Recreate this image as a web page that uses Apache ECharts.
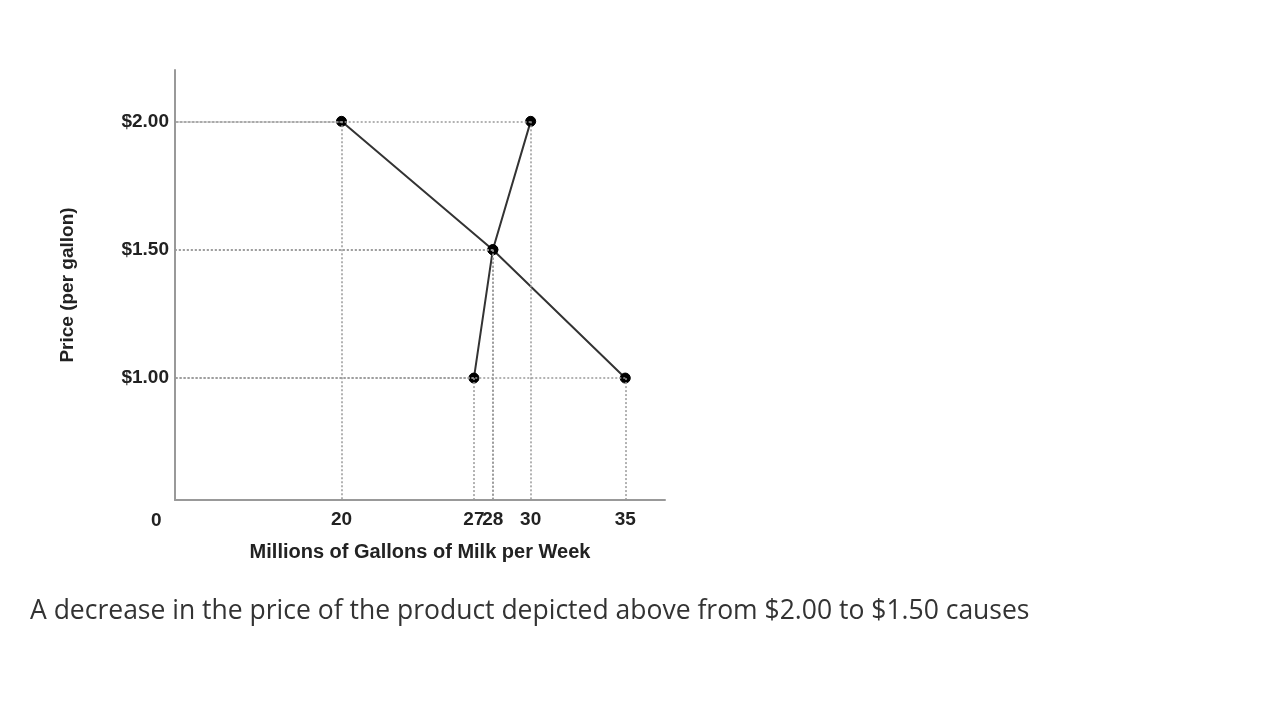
<!DOCTYPE html>
<html>
<head>
<meta charset="utf-8">
<script src="https://cdn.jsdelivr.net/npm/echarts@6/dist/echarts.min.js"></script>
<style>
  html, body { margin: 0; padding: 0; background: #fff; }
  #chart { width: 1280px; height: 708px; }
</style>
</head>
<body>
<div id="chart"></div>
<script>
var demandQty = [20, 28, 35];
var demandPrice = [2.0, 1.5, 1.0];
var supplyQty = [27, 28, 30];
var supplyPrice = [1.0, 1.5, 2.0];
var xTicks = [20, 27, 28, 30, 35];
var yTicks = [1.0, 1.5, 2.0];

function pairs(xs, ys) {
  return xs.map(function (x, i) { return [x, ys[i]]; });
}

var xMin = 11.2, yMin = 0.525;
var guides = [];
pairs(demandQty, demandPrice).concat(pairs(supplyQty, supplyPrice)).forEach(function (p) {
  guides.push([{ coord: [p[0], p[1]] }, { coord: [p[0], yMin] }]);
  guides.push([{ coord: [p[0], p[1]] }, { coord: [xMin, p[1]] }]);
});

var chart = echarts.init(document.getElementById("chart"));
chart.setOption({
  animation: false,
  grid: { left: 175, right: 615, top: 70, bottom: 208 },
  xAxis: {
    type: "value", min: xMin, max: 37.1,
    axisLine: { lineStyle: { color: "#999", width: 2 } },
    axisTick: { show: false },
    splitLine: { show: false },
    axisLabel: {
      customValues: xTicks, color: "#222", fontSize: 19, fontWeight: "bold",
      fontFamily: "Liberation Sans", margin: 10
    },
    name: "Millions of Gallons of Milk per Week",
    nameLocation: "middle", nameGap: 42,
    nameTextStyle: { color: "#222", fontSize: 20, fontWeight: "bold", fontFamily: "Liberation Sans" }
  },
  yAxis: {
    type: "value", min: yMin, max: 2.2,
    axisLine: { show: true, lineStyle: { color: "#999", width: 2 } },
    axisTick: { show: false },
    splitLine: { show: false },
    axisLabel: {
      customValues: yTicks, color: "#222", fontSize: 19, fontWeight: "bold",
      fontFamily: "Liberation Sans", margin: 6,
      formatter: function (v) { return "$" + v.toFixed(2); }
    },
    name: "Price (per gallon)",
    nameLocation: "middle", nameGap: 98, nameRotate: 90,
    nameTextStyle: { color: "#222", fontSize: 19, fontWeight: "bold", fontFamily: "Liberation Sans" }
  },
  graphic: [
    { type: "text", left: 151, top: 511, style: { text: "0", fill: "#222", font: "bold 19px Liberation Sans" } },
    { type: "text", left: 30, top: 598, style: { text: "A decrease in the price of the product depicted above from $2.00 to $1.50 causes", fill: "#333", font: "26.5px Open Sans" } }
  ],
  series: [
    {
      type: "line", data: pairs(demandQty, demandPrice),
      lineStyle: { color: "#333", width: 2 }, itemStyle: { color: "#000", borderColor: "#000" },
      symbol: "circle", symbolSize: 10,
      markLine: {
        silent: true, symbol: "none", label: { show: false },
        lineStyle: { color: "#999", type: [2, 2], width: 1.5 },
        data: guides
      }
    },
    {
      type: "line", data: pairs(supplyQty, supplyPrice),
      lineStyle: { color: "#333", width: 2 }, itemStyle: { color: "#000", borderColor: "#000" },
      symbol: "circle", symbolSize: 10
    }
  ]
});
</script>
</body>
</html>
